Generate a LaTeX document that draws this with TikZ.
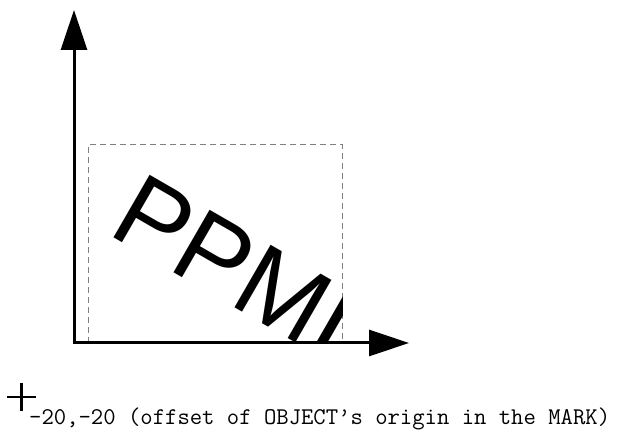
\documentclass[tikz,border=0pt]{standalone}
\usepackage{fontspec}
\usepackage{tikz}
\usetikzlibrary{positioning,arrows.meta}
\newfontfamily\objfont{Liberation Sans}
\tikzset{
  axis/.style={
    line width=3pt,
    -{Triangle[length=40pt,width=26pt]}
  },
  objbox/.style={
    draw=gray,
    line width=1pt,
    dash pattern=on 6pt off 4pt
  },
  markline/.style={
    line width=2.5pt
  }
}

\begin{document}
\begin{tikzpicture}[x=1pt,y=1pt]
      \useasboundingbox (0,0) rectangle (624,430);
      \coordinate (O) at (74,87);
      \coordinate (Ytip) at (74,420);
      \coordinate (Xtip) at (409,87);
      \coordinate (BoxSW) at (88,87);
      \coordinate (BoxNE) at (342,285);

      \draw[objbox] (BoxSW) rectangle (BoxNE);
      \begin{scope}
        \clip (BoxSW) rectangle (BoxNE);
        \node [anchor=base west, inner sep=0pt, rotate=-30,
               font=\objfont\fontsize{105}{110}\selectfont] (Obj) at (106,197) {PPMI};
      \end{scope}

      \draw[axis] (O) -- (Ytip);
      \draw[axis] ([xshift=-1.5pt]O) -- (Xtip);

      % the mark and its offset
      \coordinate (Mark) at (21.5,33);
      \draw[markline] ([xshift=-14.5pt]Mark) -- ([xshift=14.5pt]Mark);
      \draw[markline] ([yshift=-14pt]Mark) -- ([yshift=14pt]Mark);
      \node [anchor=base west, inner sep=0pt, font=\ttfamily\fontsize{24}{28}\selectfont]
        (Offset) at (29,5) {-20,-20 (offset of OBJECT’s origin in the MARK)};
    \end{tikzpicture}
\end{document}
